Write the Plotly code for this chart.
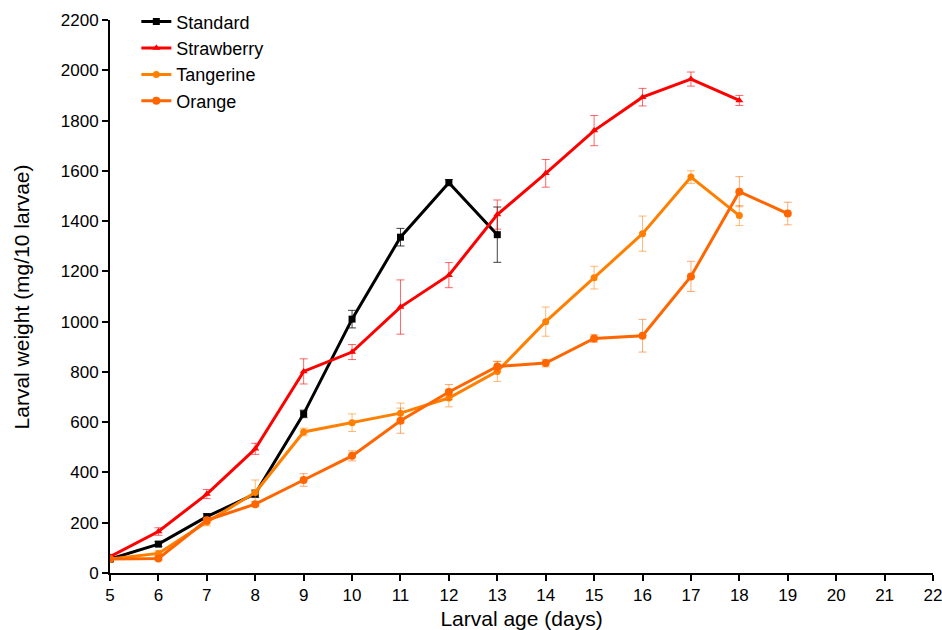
import plotly.graph_objects as go

days_std = [5, 6, 7, 8, 9, 10, 11, 12, 13]
standard = [55, 115, 224, 315, 633, 1010, 1336, 1553, 1346]
standard_err = [8, 10, 12, 15, 15, 35, 35, 12, 110]

days_str = [5, 6, 7, 8, 9, 10, 11, 12, 13, 14, 15, 16, 17, 18]
strawberry = [65, 165, 314, 494, 802, 879, 1058, 1185, 1426, 1590, 1760, 1893, 1965, 1880]
strawberry_err = [8, 15, 18, 22, 50, 30, 108, 50, 58, 55, 60, 35, 28, 20]

days_tan = [5, 6, 7, 8, 9, 10, 11, 12, 13, 14, 15, 16, 17, 18]
tangerine = [56, 78, 203, 320, 561, 598, 636, 696, 802, 1000, 1175, 1350, 1575, 1422]
tangerine_err = [6, 10, 15, 50, 15, 35, 40, 35, 40, 58, 45, 70, 25, 40]

days_org = [5, 6, 7, 8, 9, 10, 11, 12, 13, 14, 15, 16, 17, 18, 19]
orange = [56, 58, 210, 274, 370, 466, 606, 720, 822, 835, 933, 944, 1180, 1517, 1430]
orange_err = [5, 6, 12, 10, 25, 20, 50, 30, 20, 15, 15, 65, 60, 60, 45]

x_ticks = list(range(5, 23))
y_ticks = list(range(0, 2201, 200))

series = [
    ("Standard", days_std, standard, standard_err, "#000000", "rgba(0,0,0,0.75)", "square", 7),
    ("Strawberry", days_str, strawberry, strawberry_err, "#FF0000", "rgba(255,0,0,0.6)", "triangle-up", 7),
    ("Tangerine", days_tan, tangerine, tangerine_err, "#FF8000", "rgba(255,128,0,0.55)", "circle", 7),
    ("Orange", days_org, orange, orange_err, "#FF6600", "rgba(255,102,0,0.55)", "circle", 8),
]

fig = go.Figure()
for name, xs, ys, es, col, ecol, sym, ms in series:
    fig.add_trace(go.Scatter(
        x=xs, y=ys, name=name, mode="lines+markers",
        line=dict(color=col, width=3),
        marker=dict(symbol=sym, size=ms, color=col),
        error_y=dict(type="data", array=es, visible=True, color=ecol, thickness=1, width=4),
    ))

fig.update_layout(
    width=942, height=630,
    margin=dict(l=110, r=9, t=20, b=57, autoexpand=False),
    paper_bgcolor="white", plot_bgcolor="white",
    font=dict(family="Liberation Sans, Arial, sans-serif", color="black", size=17),
    showlegend=True,
    legend=dict(x=0.032, y=1.03, xanchor="left", yanchor="top",
                font=dict(size=18), bgcolor="rgba(0,0,0,0)",
                tracegroupgap=0, itemwidth=30),
    annotations=[dict(
        text="Larval weight (mg/10 larvae)", xref="paper", yref="paper",
        x=-0.107, y=0.5, xanchor="center", yanchor="middle",
        textangle=-90, showarrow=False, font=dict(size=21),
    )],
)
fig.update_xaxes(
    range=[5, 22], tickvals=x_ticks, ticktext=[str(v) for v in x_ticks],
    showline=True, linecolor="black", linewidth=2, ticks="outside",
    tickwidth=2, ticklen=6, tickcolor="black", showgrid=False, zeroline=False,
    title=dict(text="Larval age (days)", font=dict(size=21), standoff=12),
    tickfont=dict(size=17), automargin=False, ticklabeloverflow="allow",
)
fig.update_yaxes(
    range=[0, 2200], tickvals=y_ticks, ticktext=[str(v) for v in y_ticks],
    showline=True, linecolor="black", linewidth=2, ticks="outside",
    tickwidth=2, ticklen=6, tickcolor="black", showgrid=False, zeroline=False,
    tickfont=dict(size=17), automargin=False,
)

fig.write_html("out.html")
